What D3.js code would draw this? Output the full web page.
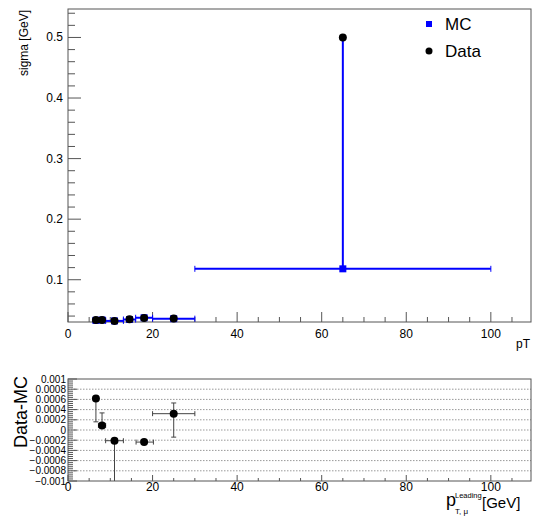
<!DOCTYPE html>
<html><head><meta charset="utf-8">
<script src="https://cdn.jsdelivr.net/npm/d3@7/dist/d3.min.js"></script>
<style>body{margin:0;background:#fff}svg{display:block;font-family:"Liberation Sans",Arial,sans-serif}</style>
</head><body><svg id="c" width="543" height="517"></svg>
<script>
// bins (pT) and values
const binLo   = [6.0, 7.2, 8.9, 13.1, 16.0, 20.0, 30.0];
const binHi   = [7.2, 8.9, 13.1, 16.0, 20.0, 30.0, 100.0];
const binCtr  = [6.6, 8.05, 11.0, 14.55, 18.0, 25.0, 65.0];
const dataSig = [0.0335, 0.0335, 0.0318, 0.0346, 0.0370, 0.0360, 0.500];
const mcSig   = [0.0329, 0.0334, 0.0320, 0.0343, 0.0372, 0.0357, 0.118];
const mcErrUp = [0.0005, 0.0005, 0.0005, 0.0005, 0.0005, 0.0005, 0.382];
// ratio pad: Data-MC
const dX    = [6.6, 8.05, 11.0, 18.0, 25.0];
const dXlo  = [6.0, 7.2, 8.9, 16.1, 20.0];
const dXhi  = [7.2, 8.9, 13.1, 20.2, 30.0];
const dY    = [0.00062, 0.00009, -0.00021, -0.000237, 0.00032];
const dYlo  = [0.00016, 0.00009, -0.0015, -0.00028, -0.00014];
const dYhi  = [0.00062, 0.000335, -0.00021, -0.00019, 0.00053];
const topYTicks = [0.1, 0.2, 0.3, 0.4, 0.5];
const botYTicks = [-0.001,-0.0008,-0.0006,-0.0004,-0.0002,0,0.0002,0.0004,0.0006,0.0008,0.001];
const botYLabels = ["\u22120.001","\u22120.0008","\u22120.0006","\u22120.0004","\u22120.0002","0","0.0002","0.0004","0.0006","0.0008","0.001"];
const xTicks = [0, 20, 40, 60, 80, 100];

const svg = d3.select("#c");
const L = 68, R = 531;
const x = d3.scaleLinear().domain([0, 109.5]).range([L, R]);
const yT = d3.scaleLinear().domain([0.0302, 0.547]).range([322, 9]);
const yB = d3.scaleLinear().domain([-0.001, 0.001]).range([481, 379]);
const frameCol = "#555";

// ---------- top pad ----------
const gT = svg.append("g");
d3.range(0, 110, 5).forEach(v => {
  const major = v % 20 === 0;
  gT.append("line").attr("x1", x(v)).attr("x2", x(v)).attr("y1", 322).attr("y2", 322 - (major ? 10 : 5))
    .attr("stroke", "#555").attr("stroke-width", 1);
});
xTicks.forEach(v => gT.append("text").attr("x", x(v)).attr("y", 338).attr("text-anchor", "middle")
  .attr("font-size", 12).text(v));
d3.range(0.04, 0.547, 0.02).forEach(v => {
  const major = Math.abs(v * 10 - Math.round(v * 10)) < 1e-6;
  gT.append("line").attr("x1", L).attr("x2", L + (major ? 13 : 7)).attr("y1", yT(v)).attr("y2", yT(v))
    .attr("stroke", "#555").attr("stroke-width", 1);
});
topYTicks.forEach(v => gT.append("text").attr("x", 63).attr("y", yT(v) + 4).attr("text-anchor", "end")
  .attr("font-size", 12).text(v));
gT.append("rect").attr("x", L).attr("y", 9).attr("width", R - L).attr("height", 313)
  .attr("fill", "none").attr("stroke", frameCol).attr("stroke-width", 1);
gT.append("text").attr("transform", "translate(28,10) rotate(-90)").attr("text-anchor", "end")
  .attr("font-size", 12).text("sigma [GeV]");
gT.append("text").attr("x", 530).attr("y", 348).attr("text-anchor", "end").attr("font-size", 12).text("pT");

const blue = "#0000ff";
binCtr.forEach((c, i) => {
  gT.append("line").attr("x1", x(binLo[i])).attr("x2", x(binHi[i])).attr("y1", yT(mcSig[i])).attr("y2", yT(mcSig[i]))
    .attr("stroke", blue).attr("stroke-width", 2);
  [binLo[i], binHi[i]].forEach(e => gT.append("line").attr("x1", x(e)).attr("x2", x(e))
    .attr("y1", yT(mcSig[i]) - 3).attr("y2", yT(mcSig[i]) + 3).attr("stroke", blue).attr("stroke-width", 1));
  gT.append("line").attr("x1", x(c)).attr("x2", x(c)).attr("y1", yT(mcSig[i])).attr("y2", yT(mcSig[i] + mcErrUp[i]))
    .attr("stroke", blue).attr("stroke-width", 2);
  gT.append("rect").attr("x", x(c) - 3.5).attr("y", yT(mcSig[i]) - 3.5).attr("width", 7).attr("height", 7).attr("fill", blue);
});
binCtr.forEach((c, i) => {
  gT.append("circle").attr("cx", x(c)).attr("cy", yT(dataSig[i])).attr("r", 4).attr("fill", "#000");
});
gT.append("rect").attr("x", 426).attr("y", 21).attr("width", 6).attr("height", 6).attr("fill", blue);
gT.append("text").attr("x", 445).attr("y", 30).attr("font-size", 17).text("MC");
gT.append("circle").attr("cx", 429).attr("cy", 51).attr("r", 3.5).attr("fill", "#000");
gT.append("text").attr("x", 445).attr("y", 57).attr("font-size", 17).text("Data");

// ---------- bottom pad ----------
const gB = svg.append("g");
botYTicks.forEach(v => {
  if (v > -0.001 && v < 0.001)
    gB.append("line").attr("x1", L).attr("x2", R).attr("y1", yB(v)).attr("y2", yB(v))
      .attr("stroke", "#999").attr("stroke-width", 1).attr("stroke-dasharray", "1.5,1.5");
});
d3.range(-0.001, 0.00100001, 0.00004).forEach(v => {
  const major = Math.abs(v / 0.0002 - Math.round(v / 0.0002)) < 1e-6;
  gB.append("line").attr("x1", L).attr("x2", L + (major ? 9 : 5)).attr("y1", yB(v)).attr("y2", yB(v))
    .attr("stroke", "#555").attr("stroke-width", 1);
});
botYTicks.forEach((v, i) => gB.append("text").attr("x", 66).attr("y", yB(v) + 3.5).attr("text-anchor", "end")
  .attr("font-size", 10).text(botYLabels[i]));
d3.range(0, 110, 5).forEach(v => {
  const major = v % 20 === 0;
  gB.append("line").attr("x1", x(v)).attr("x2", x(v)).attr("y1", 481).attr("y2", 481 - (major ? 6 : 3))
    .attr("stroke", "#555").attr("stroke-width", 1);
});
xTicks.forEach(v => gB.append("text").attr("x", x(v)).attr("y", 491).attr("text-anchor", "middle")
  .attr("font-size", 12).text(v));
svg.append("clipPath").attr("id", "cb").append("rect").attr("x", L).attr("y", 379).attr("width", R - L).attr("height", 102);
const gM = gB.append("g").attr("clip-path", "url(#cb)");
dX.forEach((c, i) => {
  gM.append("line").attr("x1", x(dXlo[i])).attr("x2", x(dXhi[i])).attr("y1", yB(dY[i])).attr("y2", yB(dY[i]))
    .attr("stroke", "#444").attr("stroke-width", 1);
  [dXlo[i], dXhi[i]].forEach(e => gM.append("line").attr("x1", x(e)).attr("x2", x(e))
    .attr("y1", yB(dY[i]) - 2.5).attr("y2", yB(dY[i]) + 2.5).attr("stroke", "#444"));
  gM.append("line").attr("x1", x(c)).attr("x2", x(c)).attr("y1", yB(dYlo[i])).attr("y2", yB(dYhi[i]))
    .attr("stroke", "#444").attr("stroke-width", 1);
  [dYlo[i], dYhi[i]].forEach(e => { if (e !== dY[i]) gM.append("line").attr("x1", x(c) - 2.5).attr("x2", x(c) + 2.5)
    .attr("y1", yB(e)).attr("y2", yB(e)).attr("stroke", "#444"); });
  gM.append("circle").attr("cx", x(c)).attr("cy", yB(dY[i])).attr("r", 4).attr("fill", "#000");
});
gB.append("rect").attr("x", L).attr("y", 379).attr("width", R - L).attr("height", 102)
  .attr("fill", "none").attr("stroke", frameCol).attr("stroke-width", 1);
gB.append("text").attr("transform", "translate(27,412) rotate(-90)").attr("text-anchor", "middle")
  .attr("font-size", 18).text("Data-MC");
gB.append("text").attr("x", 446).attr("y", 506).attr("font-size", 18).text("p");
gB.append("text").attr("x", 455).attr("y", 498).attr("font-size", 7.5).text("Leading");
gB.append("text").attr("x", 455).attr("y", 514).attr("font-size", 8).text("T, \u03BC");
gB.append("text").attr("x", 482).attr("y", 508).attr("font-size", 15).text("[GeV]");
</script></body></html>
